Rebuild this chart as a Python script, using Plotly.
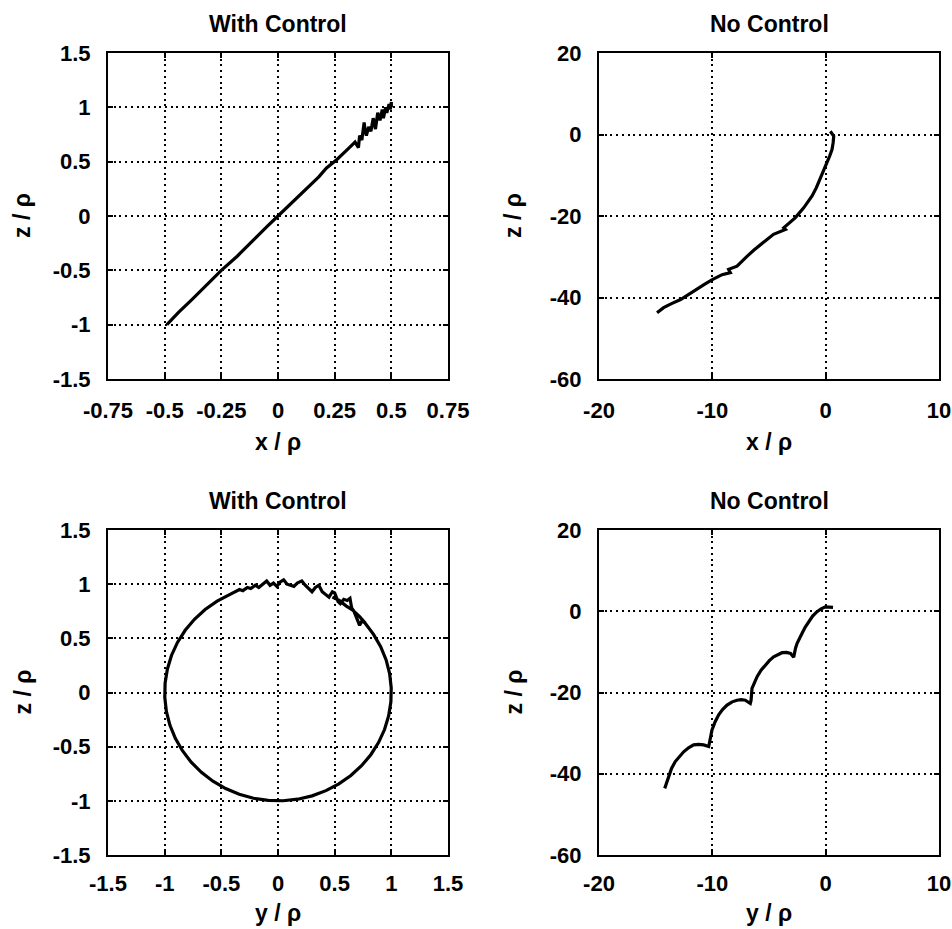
import plotly.graph_objects as go

# ---------------- data ----------------
# Top-left: With Control, x/rho vs z/rho
wc_xz_x = [-0.49, -0.44, -0.38, -0.31, -0.25, -0.18, -0.11, -0.05, 0.0, 0.06, 0.12, 0.18,
           0.213, 0.26, 0.30, 0.34, 0.355, 0.36, 0.37, 0.38, 0.385, 0.39, 0.40, 0.41, 0.42,
           0.425, 0.43, 0.44, 0.45, 0.46, 0.465, 0.475, 0.48, 0.49, 0.495, 0.50, 0.50]
wc_xz_z = [-1.0, -0.89, -0.77, -0.62, -0.5, -0.37, -0.22, -0.1, 0.0, 0.12, 0.25, 0.36,
           0.44, 0.52, 0.6, 0.68, 0.63, 0.74, 0.70, 0.86, 0.78, 0.74, 0.82, 0.78, 0.90,
           0.84, 0.80, 0.95, 0.88, 0.98, 0.90, 1.00, 0.95, 1.03, 0.98, 1.05, 1.00]

# Top-right: No Control, x/rho vs z/rho
nc_xz_x = [0.41, 0.71, 0.66, 0.56, 0.35, 0.12, -0.17, -0.47, -0.83, -1.2, -1.94, -2.67, -3.4,
           -3.7, -3.55, -4.6, -5.2, -5.76, -6.35, -6.94, -7.82, -8.56, -8.41, -9.14, -10.0,
           -10.7, -11.35, -12.1, -12.8, -13.6, -14.3, -14.88]
nc_xz_z = [0.8, -0.4, -2.0, -3.7, -5.3, -6.9, -9.0, -11.0, -13.1, -15.1, -18.0, -20.4, -22.1,
           -22.9, -23.3, -24.5, -25.8, -27.0, -28.4, -29.9, -32.3, -33.1, -33.9, -34.4, -35.6,
           -36.8, -38.0, -39.3, -40.5, -41.5, -42.5, -43.75]

# Bottom-left: With Control, y/rho vs z/rho (traced around the loop)
wc_yz_y = [0.766, 0.843, 0.906, 0.954, 0.985, 0.999, 0.996, 0.976, 0.940, 0.887, 0.819,
           0.737, 0.643, 0.537, 0.423, 0.301, 0.174, 0.044, -0.087, -0.216, -0.342, -0.462,
           -0.574, -0.676, -0.766, -0.843, -0.906, -0.954, -0.985, -0.999, -0.996, -0.976,
           -0.94, -0.887, -0.819, -0.737, -0.643, -0.537, -0.423,
           -0.38, -0.34, -0.31, -0.27, -0.24, -0.20, -0.17, -0.13, -0.10, -0.07, -0.04, -0.01,
           0.02, 0.05, 0.08, 0.11, 0.14, 0.17, 0.21, 0.24, 0.27, 0.30, 0.33, 0.36, 0.39, 0.42,
           0.45, 0.48, 0.50, 0.53, 0.55, 0.58, 0.61, 0.635, 0.65, 0.67, 0.70, 0.72, 0.74, 0.77,
           0.72, 0.66, 0.60, 0.54, 0.48]
wc_yz_z = [0.643, 0.537, 0.423, 0.301, 0.174, 0.044, -0.087, -0.216, -0.342, -0.462, -0.574,
           -0.676, -0.766, -0.843, -0.906, -0.954, -0.985, -0.999, -0.996, -0.976, -0.940, -0.887,
           -0.819, -0.737, -0.643, -0.537, -0.423, -0.301, -0.174, -0.044, 0.087, 0.216,
           0.342, 0.462, 0.574, 0.676, 0.766, 0.843, 0.906,
           0.93, 0.95, 0.94, 0.97, 0.96, 0.99, 0.97, 1.01, 1.03, 0.99, 1.01, 0.98,
           1.02, 1.04, 1.00, 0.99, 0.98, 1.01, 1.03, 0.99, 0.96, 0.93, 0.97, 0.99, 0.93, 0.90,
           0.88, 0.93, 0.92, 0.84, 0.82, 0.86, 0.85, 0.87, 0.78, 0.75, 0.68, 0.62, 0.66, 0.64,
           0.70, 0.76, 0.80, 0.85, 0.88]

# Bottom-right: No Control, y/rho vs z/rho
nc_yz_y = [0.65, 0.3, -0.03, -0.4, -0.76, -1.15, -1.5, -1.8, -2.08, -2.32, -2.52, -2.66,
           -2.76, -2.82, -3.1, -3.45, -3.85, -4.2, -4.59, -4.95, -5.32, -5.7, -6.05, -6.3,
           -6.5, -6.58, -6.65, -7.09, -7.45, -7.82, -8.25, -8.7, -9.1, -9.44, -9.75, -10.03,
           -10.24, -10.32, -10.77, -11.2, -11.65, -12.1, -12.53, -12.9, -13.27, -13.6, -13.86,
           -14.05, -14.2]
nc_yz_z = [0.97, 1.1, 1.1, 0.6, -0.1, -1.2, -2.6, -3.9, -5.4, -6.6, -7.9, -9.1,
           -10.4, -11.3, -10.4, -10.15, -10.2, -10.6, -11.2, -12.1, -13.2, -14.5, -16.1, -17.5,
           -19.0, -21.9, -22.7, -21.9, -21.75, -21.9, -22.3, -23.1, -24.2, -25.5, -27.2, -29.2,
           -31.7, -33.3, -32.9, -32.75, -32.9, -33.6, -34.6, -35.7, -37.0, -38.7, -40.7,
           -42.2, -43.6]

# tick definitions
wc_x_ticks = [-0.75, -0.5, -0.25, 0, 0.25, 0.5, 0.75]
wc_x_text = ["-0.75", "-0.5", "-0.25", "0", "0.25", "0.5", "0.75"]
wc_y_ticks = [-1.5, -1.0, -0.5, 0, 0.5, 1.0, 1.5]
wc_y_text = ["-1.5", "-1", "-0.5", "0", "0.5", "1", "1.5"]
nc_x_ticks = [-20, -10, 0, 10]
nc_x_text = ["-20", "-10", "0", "10"]
nc_y_ticks = [-60, -40, -20, 0, 20]
nc_y_text = ["-60", "-40", "-20", "0", "20"]

titles = ["With Control", "No Control", "With Control", "No Control"]
xlabels = ["x / ρ", "x / ρ", "y / ρ", "y / ρ"]
ylabel = "z / ρ"

# ---------------- figure ----------------
W, H = 952, 929
FONT = "Liberation Sans, Arial, Helvetica, sans-serif"

fig = go.Figure()
line = dict(color="black", width=3.2)
fig.add_trace(go.Scatter(x=wc_xz_x, y=wc_xz_z, mode="lines", line=line, xaxis="x", yaxis="y"))
fig.add_trace(go.Scatter(x=nc_xz_x, y=nc_xz_z, mode="lines", line=line, xaxis="x2", yaxis="y2"))
fig.add_trace(go.Scatter(x=wc_yz_y, y=wc_yz_z, mode="lines", line=line, xaxis="x3", yaxis="y3"))
fig.add_trace(go.Scatter(x=nc_yz_y, y=nc_yz_z, mode="lines", line=line, xaxis="x4", yaxis="y4"))

# pixel boxes of the four panels: (left, right, top, bottom)
boxes = [(108, 448, 53, 379), (599, 939, 53, 379), (108, 448, 530, 855), (599, 939, 530, 855)]


def px_x(p):
    return p / W


def px_y(p):
    return 1 - p / H


def ax(rng, tv, tt, dom, anchor, standoff):
    return dict(
        range=rng, domain=dom, anchor=anchor,
        tickmode="array", tickvals=tv, ticktext=tt,
        showgrid=True, gridcolor="black", gridwidth=2, griddash="2px,3.7px",
        zeroline=False,
        showline=True, linecolor="black", linewidth=2, mirror="ticks",
        ticks="inside", ticklen=5, tickwidth=1.5, tickcolor="black",
        tickfont=dict(family=FONT, size=22, color="black", weight="bold"),
        ticklabelstandoff=standoff,
        automargin=False,
        fixedrange=True,
    )


xr = [[-0.75, 0.75], [-20, 10], [-1.5, 1.5], [-20, 10]]
yr = [[-1.5, 1.5], [-60, 20], [-1.5, 1.5], [-60, 20]]
xt = [(wc_x_ticks, wc_x_text), (nc_x_ticks, nc_x_text), (wc_y_ticks, wc_y_text), (nc_x_ticks, nc_x_text)]
yt = [(wc_y_ticks, wc_y_text), (nc_y_ticks, nc_y_text), (wc_y_ticks, wc_y_text), (nc_y_ticks, nc_y_text)]

layout = dict(
    width=W, height=H, margin=dict(l=0, r=0, t=0, b=0, pad=0, autoexpand=False),
    paper_bgcolor="white", plot_bgcolor="white", showlegend=False,
    font=dict(family=FONT, color="black"),
)
annotations = []
for i, (l, r, t, b) in enumerate(boxes):
    sfx = "" if i == 0 else str(i + 1)
    xdom = [px_x(l), px_x(r)]
    ydom = [px_y(b), px_y(t)]
    xs = 11 if i < 2 else 8
    layout["xaxis" + sfx] = ax(xr[i], xt[i][0], xt[i][1], xdom, "y" + sfx, xs)
    layout["yaxis" + sfx] = ax(yr[i], yt[i][0], yt[i][1], ydom, "x" + sfx, 11)
    cx = (l + r) / 2
    cy = (t + b) / 2
    annotations.append(dict(text=titles[i], x=px_x(cx), y=px_y(t - 29), xref="paper", yref="paper",
                            showarrow=False, xanchor="center", yanchor="middle",
                            font=dict(family=FONT, size=23, color="black", weight="bold")))
    annotations.append(dict(text=xlabels[i], x=px_x(cx), y=px_y(b + 63 if i < 2 else b + 58),
                            xref="paper", yref="paper",
                            showarrow=False, xanchor="center", yanchor="middle",
                            font=dict(family=FONT, size=23, color="black", weight="bold")))
    annotations.append(dict(text=ylabel, x=px_x(l - 86), y=px_y(cy), xref="paper", yref="paper",
                            showarrow=False, xanchor="center", yanchor="middle", textangle=-90,
                            font=dict(family=FONT, size=23, color="black", weight="bold")))
layout["annotations"] = annotations
fig.update_layout(**layout)

fig.write_html("out.html")
